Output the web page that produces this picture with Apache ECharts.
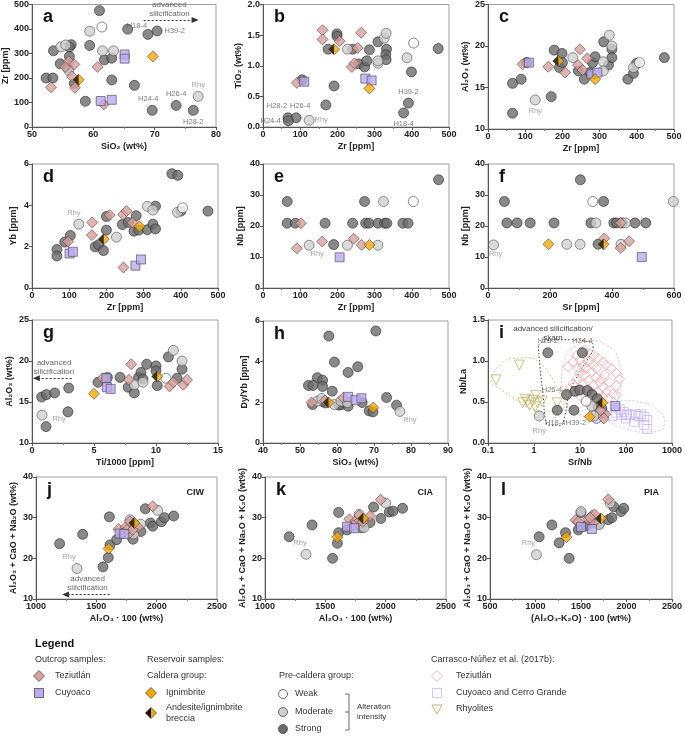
<!DOCTYPE html>
<html><head><meta charset="utf-8">
<script src="https://cdn.jsdelivr.net/npm/echarts@6/dist/echarts.min.js"></script>
<style>html,body{margin:0;padding:0;background:#fff}#c{width:685px;height:736px}</style>
</head><body><div id="c"></div>
<script>
// ---------------- DATA ----------------
// a: SiO2 vs Zr
const a_strong=[[61.0,475],[65.6,399],[53.5,311],[59.4,333],[56.4,336],[56.1,326],[56.1,288],[54.6,258],[55.8,242],[61.8,274],[63.0,281],[52.3,200],[53.4,200],[56.9,178],[63.0,192],[66.7,170],[58.7,105]];
const a_moderate=[[59.4,391],[54.7,327],[55.5,335],[61.5,311],[63.3,311],[56.0,231]];
const a_weak=[[61.4,408]];
const a_tez=[[53.1,162],[56.0,268],[56.9,255],[55.4,245],[56.5,207],[57.0,160],[60.7,245],[61.7,92]];
const a_cuy=[[61.2,106],[63.0,111],[65.1,296],[65.1,279]];
const a_ign=[[69.7,288]];
const a_brec=[[57.6,193]];
const a_named=[['H18-4','strong',68.9,378],['H39-2','strong',70.4,392],['H24-4','strong',69.6,68],['H26-4','strong',73.5,88],['H28-2','strong',76.3,68],['Rhy','moderate',77.1,125]];
// b: Zr vs TiO2
const b_strong=[[199,1.52],[199,1.48],[175,1.27],[241,1.27],[257,1.03],[273,0.98],[279,1.08],[286,1.26],[309,1.39],[332,1.27],[330,1.18],[331,1.10],[399,0.90],[471,1.28],[191,0.67],[169,0.36],[105,0.77]];
const b_moderate=[[227,1.27],[326,1.45],[331,1.53],[309,1.04],[309,1.08],[387,1.13]];
const b_weak=[[405,1.37]];
const b_tez=[[160,1.58],[160,1.43],[206,1.40],[264,1.54],[254,1.29],[239,0.98],[246,1.04],[91,0.72]];
const b_cuy=[[111,0.74],[275,0.79],[292,0.76]];
const b_ign=[[286,0.63]];
const b_brec=[[191,1.27]];
const b_named=[['H28-2','strong',67,0.15],['H26-4','strong',89,0.15],['H24-4','strong',68,0.10],['H18-4','strong',378,0.23],['H39-2','strong',391,0.39],['Rhy','moderate',124,0.11]];
// c: Zr vs Al2O3
const c_strong=[[66,11.9],[66,15.5],[89,16.0],[104,18.0],[170,13.9],[178,19.5],[199,19.1],[192,17.4],[200,18.0],[243,17.0],[259,16.0],[274,16.8],[281,18.0],[288,18.7],[311,20.5],[324,17.7],[333,19.6],[333,18.6],[376,16.0],[391,16.7],[399,17.9],[474,18.6]];
const c_moderate=[[228,18.6],[310,18.1],[310,17.0],[326,21.3],[333,20.0],[391,17.4]];
const c_weak=[[407,18.0]];
const c_tez=[[93,17.8],[162,17.5],[207,16.8],[247,19.6],[242,17.7],[267,18.5],[254,17.1]];
const c_cuy=[[110,18.0],[278,16.6],[294,16.8]];
const c_ign=[[288,16.0]];
const c_brec=[[189,18.2]];
const c_named=[['Rhy','moderate',127,13.5]];
// d: Zr vs Yb
const d_strong=[[67,1.86],[67,1.55],[88,2.22],[103,2.54],[200,3.46],[200,2.80],[170,1.99],[179,2.09],[192,1.81],[243,3.07],[259,3.17],[280,3.50],[274,2.75],[287,2.80],[310,2.82],[325,3.09],[332,3.96],[332,2.86],[376,5.53],[392,5.45],[400,3.72],[473,3.72]];
const d_moderate=[[227,2.46],[310,3.95],[325,3.77],[391,3.66]];
const d_weak=[[405,3.88]];
const d_tez=[[162,3.17],[161,2.56],[209,3.53],[245,3.56],[254,3.72],[270,3.16],[246,0.99],[97,2.25]];
const d_cuy=[[101,1.67],[110,1.75],[278,1.08],[293,1.38]];
const d_ign=[[289,2.98]];
const d_brec=[[193,2.36]];
const d_named=[['Rhy','moderate',126,3.09]];
// e: Zr vs Nb
const e_strong=[[65,27.9],[65,20.9],[87,20.9],[167,20.9],[190,14],[241,20.9],[273,27.9],[276,20.9],[285,20.9],[309,20.9],[327,20.9],[333,20.9],[376,20.9],[390,20.9],[472,34.9]];
const e_moderate=[[227,13.8],[309,13.8],[324,27.9]];
const e_weak=[[404,27.9]];
const e_tez=[[91,12.8],[102,20.9],[159,15],[244,15.9],[265,13.9]];
const e_cuy=[[206,9.9]];
const e_ign=[[286,13.9]];
const e_brec=[];
const e_named=[['Rhy','moderate',124,13.8]];
// f: Sr vs Nb
const f_strong=[[53,27.9],[61,21],[94,21],[136,21],[213,21],[298,34.9],[332,21],[355,14.1],[373,27.9],[406,21],[415,21],[433,21],[474,21],[509,21]];
const f_moderate=[[254,14.1],[297,14.1],[348,21],[444,21],[429,14.1],[598,27.9]];
const f_weak=[[338,27.9]];
const f_tez=[[375,16],[455,15.1],[428,12.9],[428,21]];
const f_cuy=[[496,10]];
const f_ign=[[195,14.1]];
const f_brec=[[373,14.1]];
const f_named=[['Rhy','moderate',18,13.9]];
// g: Ti/1000 vs Al2O3
const g_strong=[[0.78,15.6],[1.16,15.9],[1.83,16.1],[2.96,16.7],[2.90,13.8],[1.13,12.0],[5.32,17.4],[6.08,18.0],[7.1,18.0],[7.75,16.8],[8.25,16.1],[8.6,18.0],[8.79,18.6],[8.95,17.8],[9.25,19.6],[10.0,19.4],[10.0,18.8],[10.1,17.0],[11.0,20.5],[11.7,17.9],[12.1,19.0]];
const g_moderate=[[8.25,17.1],[8.95,17.4],[11.4,21.3],[12.1,20.0]];
const g_weak=[[10.8,17.9]];
const g_tez=[[5.7,17.9],[8.0,19.6],[7.82,17.7],[11.1,16.9],[11.4,17.4],[12.2,17.1],[12.5,17.7]];
const g_cuy=[[6.0,17.9],[6.05,16.8],[6.34,16.6]];
const g_ign=[[5.0,16.0]];
const g_brec=[[10.1,18.1]];
const g_named=[['Rhy','moderate',0.81,13.4]];
// h: SiO2 vs Dy/Yb
const h_strong=[[57.8,5.26],[70.5,5.51],[59.3,3.98],[65.6,3.75],[63.0,3.47],[54.7,3.21],[56.1,3.09],[52.3,2.83],[53.5,2.83],[56.1,2.78],[58.7,2.55],[73.4,2.24],[76.1,1.86],[53.4,1.89],[56.8,1.97],[60.5,1.86],[61.3,1.89],[63.0,1.81],[66.8,1.99],[68.7,1.58],[69.7,1.53],[56.0,2.05]];
const h_moderate=[[54.7,2.06],[55.9,2.19],[59.3,1.89],[61.1,2.06],[62.8,1.99]];
const h_weak=[];
const h_tez=[[53.1,1.99],[61.7,2.22],[56.8,2.09]];
const h_cuy=[[63.0,2.27],[65.0,2.11],[66.6,2.20]];
const h_ign=[[69.8,1.74]];
const h_brec=[[57.7,1.99]];
const h_named=[['Rhy','moderate',77.0,1.55]];
// i: Sr/Nb vs Nb/La (log x)
const i_strong=[[7.7,0.63],[9.9,0.645],[14.5,0.64],[18.3,0.59],[23.9,0.54],[24.6,0.44],[30,0.42],[28,0.36]];
const i_moderate=[[23,0.30],[28.7,0.37],[20,0.33],[18,0.45]];
const i_weak=[[13.6,0.51]];
const i_tez=[[35.6,0.35],[33,0.30],[28,0.40]];
const i_cuy=[[58.6,0.45]];
const i_ign=[[16.3,0.32]];
const i_brec=[[30.6,0.49]];
const i_named=[['H28-2','strong',2.0,1.10],['H24-4','strong',11.3,1.10],['H26-4','strong',5.1,0.59],['H18-4','strong',3.2,0.40],['H39-2','strong',7.4,0.40],['Rhy','moderate',1.3,0.33]];
const i_lit_tez=[[5.5,0.93],[7.1,0.99],[8.4,1.07],[10.8,1.11],[12.7,1.13],[16.3,1.09],[20.0,1.07],[24.7,1.03],[31.7,0.99],[37.4,0.95],[48.0,0.91],[61.5,0.85],[72.6,0.78],[61.5,0.70],[52.1,0.60],[40.6,0.54],[31.7,0.68],[26.9,0.74],[22.7,0.80],[17.7,0.87],[13.8,0.91],[11.7,0.95],[9.9,0.85],[8.4,0.78],[7.1,0.72],[6.0,0.66],[9.1,0.64],[11.7,0.72],[15.0,0.76],[19.3,0.70],[24.7,0.62],[31.7,0.56],[16.3,0.52],[20.9,0.44],[26.9,0.48],[10.8,0.56],[15.0,0.99],[22.7,0.91],[34.4,0.83],[44.2,0.74],[17.7,0.62],[29.2,0.78],[9.9,1.01],[37.4,0.62],[61.5,0.58],[12.7,0.83],[9.1,0.91],[19.3,0.95]];
const i_lit_cuy=[[61,0.37],[73,0.41],[90,0.38],[105,0.35],[125,0.34],[160,0.35],[185,0.33],[215,0.35],[250,0.32],[290,0.28],[290,0.17],[250,0.22],[150,0.26],[100,0.30],[80,0.34],[50,0.33]];
const i_lit_rhy=[[0.15,0.77],[0.48,0.95],[1.1,0.58],[0.94,0.52],[0.72,0.50],[0.57,0.49],[0.8,0.46],[1.2,0.49],[1.5,0.51],[3.2,0.49],[1.05,0.44],[0.65,0.53]];
const i_zone_rhy=[[0.122,0.825],[0.185,0.95],[0.33,1.03],[0.70,1.04],[1.36,0.97],[2.23,0.83],[3.37,0.64],[4.55,0.49],[3.98,0.40],[2.23,0.38],[0.97,0.41],[0.42,0.52],[0.185,0.66],[0.122,0.74],[0.122,0.825]];
const i_zone_sil=[[1.24,1.19],[1.89,1.25],[6.0,1.26],[16.3,1.23],[19.3,1.17],[15.0,1.03],[9.9,0.87],[6.0,0.62],[4.7,0.34],[3.66,0.215],[2.23,0.215],[1.74,0.32],[1.60,0.54],[1.36,0.91],[1.24,1.19]];
const i_zone_tez=[[3.98,0.78],[4.7,1.03],[8.4,1.19],[17.7,1.25],[37.4,1.19],[66.8,1.03],[78.9,0.78],[66.8,0.54],[37.4,0.38],[17.7,0.32],[8.4,0.38],[4.7,0.54],[3.98,0.78]];
const i_zone_cuy=[[34.4,0.49],[85.8,0.52],[232,0.49],[490,0.40],[682,0.256],[532,0.155],[274,0.134],[101,0.175],[44.2,0.256],[31.7,0.38],[34.4,0.49]];
// j: CIW
const j_strong=[[1196,23.6],[1387,25.9],[1608,30.2],[1613,23.3],[1599,20.2],[1555,17.9],[1669,24.6],[1906,32.2],[1948,28.7],[1967,27.9],[2039,29.0],[2064,30.0],[2141,30.4],[1870,26.6],[1804,24.7],[1790,29.0]];
const j_moderate=[[2008,31.8],[1867,28.4],[1809,26.0],[1780,29.5]];
const j_weak=[];
const j_tez=[[1967,32.8],[1685,27.2],[1721,26.4],[1743,27.7],[1762,25.9],[1776,29.1],[1754,27.0],[1845,27.7],[1800,27.0]];
const j_cuy=[[1693,26.1],[1732,26.0]];
const j_ign=[[1602,22.4]];
const j_brec=[[1815,28.7]];
const j_named=[['Rhy','moderate',1340,17.5]];
// k: CIA
const k_strong=[[1200,25.3],[1390,28.2],[1560,20.0],[1600,23.7],[1610,26.3],[1610,31.3],[1680,27.0],[1900,32.6],[1870,28.8],[1960,29.8],[2030,31.4],[2060,31.6],[2140,32.3],[1800,27.5]];
const k_moderate=[[2000,33.6],[1780,30.8],[1820,27.6]];
const k_weak=[];
const k_tez=[[1960,34.4],[1700,29.6],[1750,29.2],[1780,30.6],[1760,28.5],[1810,29.0],[1870,30.4],[1730,28.2]];
const k_cuy=[[1680,27.8],[1740,27.4]];
const k_ign=[[1600,25.2]];
const k_brec=[[1815,29.8]];
const k_named=[['Rhy','moderate',1340,21.0]];
// l: PIA
const l_strong=[[1040,25.3],[1180,28.2],[1260,23.8],[1330,26.3],[1370,20.0],[1470,27.0],[1500,31.2],[1560,28.0],[1650,29.0],[1800,29.5],[1840,30.0],[1860,32.7],[1940,31.5],[1970,32.3],[1700,28.5]];
const l_moderate=[[1820,33.6],[1500,31.5],[1700,28.3]];
const l_weak=[];
const l_tez=[[1800,34.5],[1440,29.4],[1470,29.0],[1580,29.6],[1620,30.5],[1640,28.8],[1650,30.8],[1600,30.0]];
const l_cuy=[[1500,27.7],[1620,27.2]];
const l_ign=[[1340,25.2]];
const l_brec=[[1720,29.8]];
const l_named=[['Rhy','moderate',1010,20.9]];

// ---------------- STYLE / LAYOUT ----------------
const F='"Liberation Sans", Arial, sans-serif';
const STY={
  strong:{symbol:'circle',symbolSize:10,itemStyle:{color:'#6b6b6b',borderColor:'#2e2e2e',borderWidth:0.8}},
  moderate:{symbol:'circle',symbolSize:10,itemStyle:{color:'#cfcfcf',borderColor:'#555',borderWidth:0.8}},
  weak:{symbol:'circle',symbolSize:10,itemStyle:{color:'#ffffff',borderColor:'#444',borderWidth:0.8}},
  tez:{symbol:'diamond',symbolSize:11,itemStyle:{color:'#d9a09c',borderColor:'#5a4646',borderWidth:0.8}},
  cuy:{symbol:'rect',symbolSize:9,itemStyle:{color:'#bba9f2',borderColor:'#4a4a4a',borderWidth:0.8}},
  ign:{symbol:'diamond',symbolSize:11,itemStyle:{color:'#f6a800',borderColor:'#4a4a4a',borderWidth:0.8}},
  brecHalf:{symbol:'path://M10,0 L0,10 L10,20 Z',symbolSize:[5.5,11],symbolOffset:[-2.75,0],itemStyle:{color:'#111',borderWidth:0}},
  litTez:{symbol:'diamond',symbolSize:10,itemStyle:{color:'rgba(255,255,255,0)',borderColor:'#e6a8a8',borderWidth:1}},
  litCuy:{symbol:'rect',symbolSize:9,itemStyle:{color:'rgba(255,255,255,0)',borderColor:'#c6b6f6',borderWidth:1}},
  litRhy:{symbol:'triangle',symbolSize:10,symbolRotate:180,itemStyle:{color:'rgba(255,255,255,0)',borderColor:'#c2b56e',borderWidth:1}}
};
const LBL={
 'a|H18-4':['top',[-11,3]],'a|H39-2':['right',[0,0]],'a|H24-4':['top',[-4,0]],'a|H26-4':['top',[0,0]],'a|H28-2':['bottom',[0,0]],'a|Rhy':['top',[0,0]],
 'b|H28-2':['top',[-11,0]],'b|H26-4':['top',[4,0]],'b|H24-4':['left',[0,0]],'b|H18-4':['bottom',[0,0]],'b|H39-2':['top',[0,0]],'b|Rhy':['right',[-2,0]],
 'c|Rhy':['bottom',[0,0]],'d|Rhy':['top',[-5,0]],'e|Rhy':['bottom',[8,-3]],'f|Rhy':['bottom',[2,-2]],'g|Rhy':['right',[3,4]],'h|Rhy':['bottom',[10,-3]],
 'i|H28-2':['top',[0,0]],'i|H24-4':['top',[0,0]],'i|H26-4':['left',[3,-5]],'i|H18-4':['bottom',[-2,1]],'i|H39-2':['bottom',[2,1]],'i|Rhy':['bottom',[0,4]],
 'j|Rhy':['top',[-8,0]],'k|Rhy':['top',[-6,0]],'l|Rhy':['top',[-8,0]]
};
const PANELS=[
 {id:'a',g:[32,4,184,123],x:[50,80,10,'SiO₂ (wt%)'],y:[0,500,100,'Zr [ppm]',21]},
 {id:'b',g:[263,4,186,123],x:[0,500,100,'Zr [ppm]'],y:[0,2,0.5,'TiO₂ (wt%)',20,1]},
 {id:'c',g:[488,4,186,125],x:[0,500,100,'Zr [ppm]'],y:[10,25,5,'Al₂O₃ (wt%)',18]},
 {id:'d',g:[32,164,186,124],x:[0,500,100,'Zr [ppm]'],y:[0,6,2,'Yb [ppm]',14]},
 {id:'e',g:[263,164,186,124],x:[0,500,100,'Zr [ppm]'],y:[0,40,10,'Nb [ppm]',18]},
 {id:'f',g:[488,164,186,124],x:[0,600,200,'Sr [ppm]'],y:[0,40,10,'Nb [ppm]',18]},
 {id:'g',g:[32,320,186,123],x:[0,15,5,'Ti/1000 [ppm]'],y:[10,25,5,'Al₂O₃ (wt%)',18]},
 {id:'h',g:[263,321,185,122],x:[40,90,10,'SiO₂ (wt%)'],y:[0,6,2,'Dy/Yb [ppm]',14]},
 {id:'i',g:[488,320,185,123],x:[0.1,1000,0,'Sr/Nb','log'],y:[0,1.5,0.5,'Nb/La',20,1]},
 {id:'j',g:[36,477,181,122],x:[1000,2500,500,'Al₂O₃ · 100 (wt%)'],y:[10,40,10,'Al₂O₃ + CaO + Na₂O (wt%)',18]},
 {id:'k',g:[265,477,181,122],x:[1000,2500,500,'Al₂O₃ · 100 (wt%)'],y:[10,40,10,'Al₂O₃ + CaO + Na₂O + K₂O (wt%)',18]},
 {id:'l',g:[490,477,182,122],x:[500,2500,500,'(Al₂O₃-K₂O) · 100 (wt%)'],y:[10,40,10,'Al₂O₃ + CaO + Na₂O + K₂O (wt%)',18]}
];
const DATA={
 a:[a_strong,a_moderate,a_weak,a_tez,a_cuy,a_ign,a_brec,a_named],
 b:[b_strong,b_moderate,b_weak,b_tez,b_cuy,b_ign,b_brec,b_named],
 c:[c_strong,c_moderate,c_weak,c_tez,c_cuy,c_ign,c_brec,c_named],
 d:[d_strong,d_moderate,d_weak,d_tez,d_cuy,d_ign,d_brec,d_named],
 e:[e_strong,e_moderate,e_weak,e_tez,e_cuy,e_ign,e_brec,e_named],
 f:[f_strong,f_moderate,f_weak,f_tez,f_cuy,f_ign,f_brec,f_named],
 g:[g_strong,g_moderate,g_weak,g_tez,g_cuy,g_ign,g_brec,g_named],
 h:[h_strong,h_moderate,h_weak,h_tez,h_cuy,h_ign,h_brec,h_named],
 i:[i_strong,i_moderate,i_weak,i_tez,i_cuy,i_ign,i_brec,i_named],
 j:[j_strong,j_moderate,j_weak,j_tez,j_cuy,j_ign,j_brec,j_named],
 k:[k_strong,k_moderate,k_weak,k_tez,k_cuy,k_ign,k_brec,k_named],
 l:[l_strong,l_moderate,l_weak,l_tez,l_cuy,l_ign,l_brec,l_named]
};
const ARROWS={a:[[68.2,437],[76.6,437]], g:[[3.2,17.9],[0.35,17.9]], j:[[1610,11.1],[1245,11.1]]};

const grids=[],xAxes=[],yAxes=[],series=[],titles=[];
const tickLbl={fontSize:9,fontWeight:'bold',color:'#222',fontFamily:F,margin:3,formatter:v=>String(v)};
const nameSty={fontSize:9,fontWeight:'bold',color:'#222',fontFamily:F};
PANELS.forEach((p,gi)=>{
  grids.push({left:p.g[0],top:p.g[1],width:p.g[2],height:p.g[3],show:true,borderColor:'#a0a0a0',borderWidth:1,backgroundColor:'#fff'});
  const xa={gridIndex:gi,type:p.x[4]==='log'?'log':'value',min:p.x[0],max:p.x[1],
    name:p.x[3],nameLocation:'middle',nameGap:15,nameTextStyle:nameSty,
    axisLine:{show:true,onZero:false,lineStyle:{color:'#555',width:1}},axisTick:{show:true,length:3,lineStyle:{color:'#555'}},
    minorTick:{show:true,splitNumber:2,length:2,lineStyle:{color:'#777'}},
    axisLabel:Object.assign({},tickLbl),splitLine:{show:false}};
  if(p.x[4]==='log'){xa.logBase=10;xa.minorTick={show:false};}
  else xa.interval=p.x[2];
  xAxes.push(xa);
  const ya={gridIndex:gi,type:'value',min:p.y[0],max:p.y[1],interval:p.y[2],
    name:p.y[3],nameLocation:'middle',nameRotate:90,nameGap:p.y[4],nameTextStyle:nameSty,
    axisLine:{show:true,onZero:false,lineStyle:{color:'#555',width:1}},axisTick:{show:true,length:3,lineStyle:{color:'#555'}},
    axisLabel:Object.assign({},tickLbl,p.y[5]?{formatter:v=>v.toFixed(1)}:{}),splitLine:{show:false}};
  yAxes.push(ya);
  titles.push({text:p.id,left:p.g[0]+6,top:p.g[1]-1,textStyle:{fontSize:18,fontWeight:'bold',color:'#111',fontFamily:F}});
  const [st,mo,we,tz,cu,ig,br,nm]=DATA[p.id];
  const base={type:'scatter',xAxisIndex:gi,yAxisIndex:gi,animation:false,silent:true};
  if(p.id==='i'){
    const zone=(d,c,t)=>series.push({type:'line',xAxisIndex:gi,yAxisIndex:gi,data:d,smooth:0.6,symbol:'none',animation:false,silent:true,z:1,
      lineStyle:{color:c,width:1,type:t}});
    zone(i_zone_rhy,'#cdc38e',[2,2]);zone(i_zone_tez,'#ebbcbc',[2,2]);zone(i_zone_cuy,'#cfc4f6',[2,2]);zone(i_zone_sil,'#444',[1.5,2]);
    series.push(Object.assign({},base,STY.litRhy,{data:i_lit_rhy,z:2}));
    series.push(Object.assign({},base,STY.litTez,{data:i_lit_tez,z:2}));
    series.push(Object.assign({},base,STY.litCuy,{data:i_lit_cuy,z:2}));
  }
  const named=(kind)=>nm.filter(n=>n[1]===kind).map(n=>{
    const L=LBL[p.id+'|'+n[0]]||['top',[0,0]];
    return {value:[n[2],n[3]],label:{show:true,formatter:n[0],position:L[0],offset:L[1],distance:2,fontSize:7.5,fontFamily:F,color:n[0]==='Rhy'?'#8a8a8a':'#555'}};
  });
  const s1=Object.assign({},base,STY.strong,{data:st.concat(named('strong')),z:3});
  if(ARROWS[p.id]){
    const A=ARROWS[p.id];
    s1.markLine={silent:true,animation:false,symbol:['none','triangle'],symbolSize:[6,7],
      lineStyle:{type:[2,2],color:'#333',width:1},
      label:{show:true,formatter:'advanced\nsilicification',position:'insideMiddleTop',fontSize:8,lineHeight:9,color:'#666',fontFamily:F,distance:2},
      data:[[{coord:A[0]},{coord:A[1]}]]};
  }
  series.push(s1);
  series.push(Object.assign({},base,STY.moderate,{data:mo.concat(named('moderate')),z:3}));
  if(we.length)series.push(Object.assign({},base,STY.weak,{data:we,z:3}));
  series.push(Object.assign({},base,STY.tez,{data:tz,z:4}));
  series.push(Object.assign({},base,STY.cuy,{data:cu,z:4}));
  series.push(Object.assign({},base,STY.ign,{data:ig,z:4}));
  if(br.length){
    series.push(Object.assign({},base,STY.ign,{data:br,z:5}));
    series.push(Object.assign({},base,STY.brecHalf,{data:br,z:6}));
  }
});
titles.push({text:'CIW',right:685-217+8,top:483,textStyle:nameSty});
titles.push({text:'CIA',right:685-446+8,top:483,textStyle:nameSty});
titles.push({text:'PIA',right:685-672+8,top:483,textStyle:nameSty});

// ---------------- LEGEND (graphic) ----------------
const G=[];
const T=(x,y,t,o)=>G.push({type:'text',x:x,y:y,silent:true,style:Object.assign({text:t,fill:'#333',font:'9px '+F,verticalAlign:'middle'},o||{})});
const dia=(x,y,fill,stroke,r)=>G.push({type:'polygon',silent:true,shape:{points:[[x,y-r],[x+r,y],[x,y+r],[x-r,y]]},style:{fill:fill,stroke:stroke,lineWidth:0.8}});
const circ=(x,y,fill)=>G.push({type:'circle',silent:true,shape:{cx:x,cy:y,r:4.5},style:{fill:fill,stroke:'#444',lineWidth:0.8}});
const sq=(x,y,fill,stroke)=>G.push({type:'rect',silent:true,shape:{x:x-4.5,y:y-4.5,width:9,height:9},style:{fill:fill,stroke:stroke,lineWidth:0.8}});
T(35,644,'Legend',{font:'bold 11px '+F,fill:'#111'});
T(35,660,'Outcrop samples:');
dia(39,676,'#d9a09c','#5a4646',5.5);T(55,676,'Teziutlán');
sq(39,693,'#bba9f2','#4a4a4a');T(55,693,'Cuyoaco');
T(147,660,'Reservoir samples:');
T(147,676,'Caldera group:');
dia(151,693,'#f6a800','#4a4a4a',5.5);T(166,693,'Ignimbrite');
dia(151,713,'#f6a800','#4a4a4a',5.5);G.push({type:'polygon',silent:true,shape:{points:[[151,707.5],[145.5,713],[151,718.5]]},style:{fill:'#111'}});
T(166,708,'Andesite/ignimbrite');T(166,719,'breccia');
T(279,676,'Pre-caldera group:');
circ(283,694,'#ffffff');T(295,694,'Weak');
circ(283,712,'#cfcfcf');T(295,712,'Moderate');
circ(283,729,'#6b6b6b');T(295,729,'Strong');
G.push({type:'polyline',silent:true,shape:{points:[[345,694],[349,694],[349,730],[345,730]]},style:{stroke:'#444',lineWidth:0.8,fill:null}});
G.push({type:'line',silent:true,shape:{x1:345,y1:712,x2:349,y2:712},style:{stroke:'#444',lineWidth:0.8}});
T(357,707,'Alteration',{font:'8px '+F});T(357,717,'intensity',{font:'8px '+F});
T(431,660,'Carrasco-Núñez et al. (2017b):');
dia(437,676,'none','#e6a8a8',5.5);T(456,676,'Teziutlán');
sq(437,693,'none','#c6b6f6');T(456,693,'Cuyoaco and Cerro Grande');
G.push({type:'polygon',silent:true,shape:{points:[[432,705],[442,705],[437,714]]},style:{fill:'none',stroke:'#c2b56e',lineWidth:1}});
T(456,709,'Rhyolites');
G.push({type:'text',x:553,y:324,silent:true,style:{text:'advanced silicification/\nskarn',fill:'#444',font:'8px '+F,align:'center',lineHeight:9}});

const chart=echarts.init(document.getElementById('c'),null,{renderer:'canvas'});
chart.setOption({animation:false,backgroundColor:'#fff',title:titles,grid:grids,xAxis:xAxes,yAxis:yAxes,series:series,graphic:G});
</script></body></html>
